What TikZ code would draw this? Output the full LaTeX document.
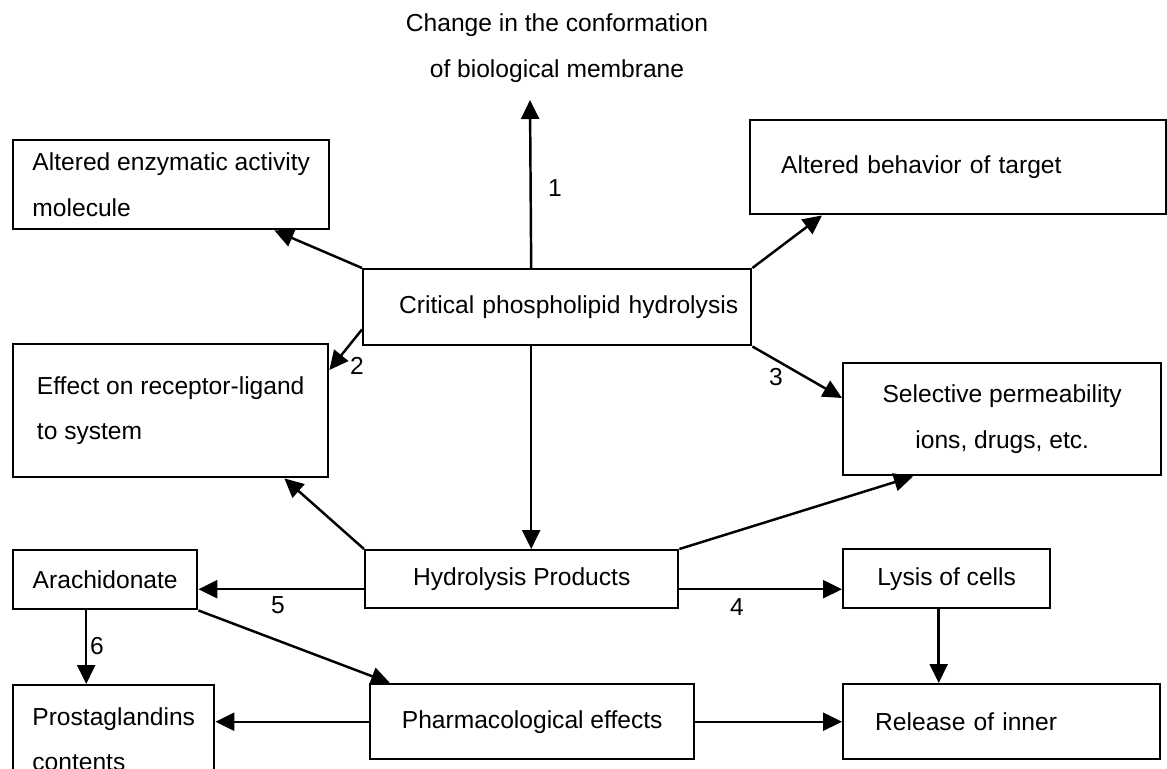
\documentclass[tikz,border=0pt]{standalone}
\usepackage{fontspec}
\setmainfont{Liberation Sans}
\usetikzlibrary{arrows.meta}

\begin{document}
\begin{tikzpicture}[x=0.02cm, y=-0.02cm, >={Triangle[length=0.38cm, width=0.36cm]},
        every node/.style={font=\fontsize{14}{26}\selectfont},
        box/.style={draw, line width=1.4pt, anchor=north west, inner sep=0pt},
        link/.style={->, line width=1.4pt}]
    \useasboundingbox (0, 0) rectangle (1167, 768);
    \clip (0, 0) rectangle (1167, 768);
    \node[align=center] (membrane) at (557, 48) {Change in the conformation\\of biological membrane};
    \node[box, align=left, minimum width=6.32cm, minimum height=1.78cm] (enzyme) at (12, 139) {Altered enzymatic activity\\molecule};
    \node[box, align=left, text width=7.08cm, inner xsep=0.62cm, minimum height=1.88cm] (target) at (749, 119) {Altered behavior of target};
    \node[box, align=right, text width=7.24cm, inner xsep=0.26cm, minimum height=1.52cm] (critical) at (362, 268) {Critical phospholipid hydrolysis};
    \node[box, align=left, minimum width=6.3cm, minimum height=2.66cm] (receptor) at (12, 343) {Effect on receptor-ligand\\to system};
    \node[box, align=center, minimum width=6.36cm, minimum height=2.24cm] (permeability) at (842, 362) {Selective permeability\\ions, drugs, etc.};
    \node[box, minimum width=6.26cm, minimum height=1.16cm] (products) at (364, 549) {Hydrolysis Products};
    \node[box, minimum width=3.68cm, minimum height=1.18cm] (arachidonate) at (12, 549) {Arachidonate};
    \node[box, minimum width=4.14cm, minimum height=1.18cm] (lysis) at (842, 548) {Lysis of cells};
    \node[box, align=left, minimum width=4.02cm, minimum height=2.16cm] (prostaglandins) at (12, 684) {Prostaglandins\\contents};
    \node[box, minimum width=6.48cm, minimum height=1.5cm] (pharma) at (369, 683) {Pharmacological effects};
    \node[box, align=left, text width=5.06cm, inner xsep=0.64cm, minimum height=1.5cm] (release) at (842, 683) {Release of inner};
    \coordinate (up) at (530, 100);

    \draw[link] ([xshift=-0.52cm]critical.north) -- (up);
    \draw[link] (critical.north west) -- ([xshift=-1.12cm]enzyme.south east);
    \draw[link] (critical.north east) -- ([xshift=1.46cm]target.south west);
    \draw[link] ([yshift=0.34cm]critical.south west) -- ([yshift=-0.54cm]receptor.north east);
    \draw[link] (critical.south east) -- ([yshift=-0.72cm]permeability.north west);
    \draw[link] ([xshift=-0.52cm]critical.south) -- ([xshift=-0.52cm]critical.south |- products.north);
    \draw[link] (products.north west) -- ([xshift=-0.9cm]receptor.south east);
    \draw[link] (products.north east) -- ([xshift=1.42cm]permeability.south west);
    \draw[link] ([yshift=-0.2cm]products.west) -- ([yshift=-0.2cm]products.west -| arachidonate.east);
    \draw[link] ([yshift=-0.2cm]products.east) -- ([yshift=-0.2cm]products.east -| lysis.west);
    \draw[link] ([xshift=-0.38cm]arachidonate.south) -- ([xshift=-0.38cm]arachidonate.south |- prostaglandins.north);
    \draw[link] (arachidonate.south east) -- ([xshift=0.42cm]pharma.north west);
    \draw[link] (pharma.west) -- (pharma.west -| prostaglandins.east);
    \draw[link] (pharma.east) -- (pharma.east -| release.west);
    \draw[link] ([xshift=-0.16cm]lysis.south) -- ([xshift=-0.16cm]lysis.south |- release.north);

    \node (n1) at (555, 188) {1};
    \node (n2) at (357, 366) {2};
    \node (n3) at (776, 377) {3};
    \node (n4) at (737, 607) {4};
    \node (n5) at (278, 605) {5};
    \node (n6) at (97, 646) {6};
\end{tikzpicture}
\end{document}
